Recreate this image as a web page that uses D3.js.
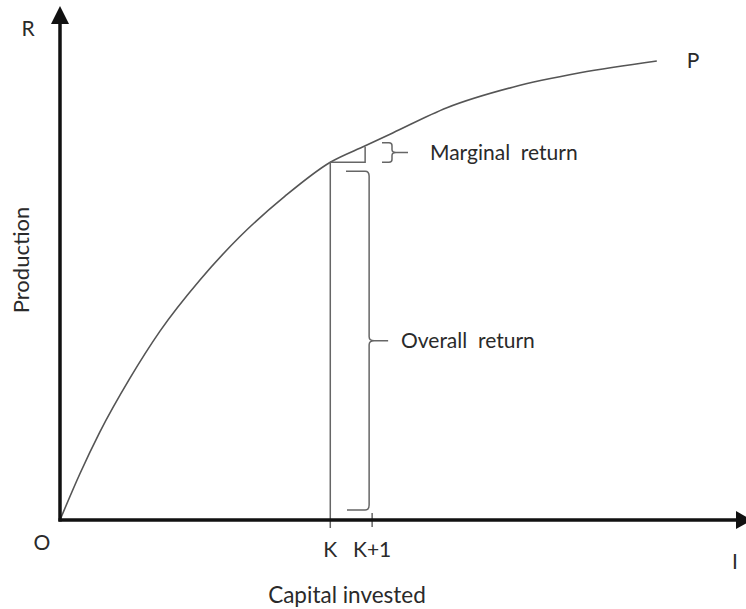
<!DOCTYPE html>
<html>
<head>
<meta charset="utf-8">
<script src="https://cdn.jsdelivr.net/npm/d3@7"></script>
<style>
  body { margin: 0; background: #fff; }
  text { font-family: Lato, "Open Sans", sans-serif; fill: #2a2a2a; font-size: 21px; }
  .guide { fill: none; stroke: #666; stroke-width: 1.5px; }
</style>
</head>
<body>
<svg id="chart" width="746" height="609"></svg>
<script>
  // production curve P (capital, production)
  const capital = [0, 2.9, 5.8, 10.2, 14.6, 20.4, 26.2, 32.8, 39.4, 44.5, 48.5, 56.4, 66, 75.8, 87];
  const production = [0, 9, 17.1, 27.6, 36.8, 46.7, 55.1, 63, 69.6, 72.8, 75.3, 80.2, 84.2, 87, 89.3];

  const kMarks = ["K", "K+1"];
  const kValues = [39.4, 45.5];

  const x = d3.scaleLinear().domain([0, 100]).range([60, 746]);
  const y = d3.scaleLinear().domain([0, 100]).range([520, 6]);

  const svg = d3.select("#chart");
  const pts = d3.zip(capital, production);
  const curveAt = (v) => {
    const i = d3.bisectLeft(capital, v);
    if (capital[i] === v) return production[i];
    const t = (v - capital[i - 1]) / (capital[i] - capital[i - 1]);
    return production[i - 1] + t * (production[i] - production[i - 1]);
  };

  // the curve
  svg.append("path")
    .datum(pts)
    .attr("fill", "none")
    .attr("stroke", "#555")
    .attr("stroke-width", 1.6)
    .attr("d", d3.line().x((d) => x(d[0])).y((d) => y(d[1])).curve(d3.curveMonotoneX));

  const kx = x(kValues[0]), k1x = x(kValues[1]);
  const ky = y(curveAt(kValues[0]));
  const stepX = k1x - 7;
  const stepY = y(curveAt(x.invert(stepX))) + 1;

  // K vertical and step triangle
  svg.append("line").attr("class", "guide")
    .attr("x1", kx).attr("x2", kx).attr("y1", ky).attr("y2", y(0) + 8);
  svg.append("path").attr("class", "guide")
    .attr("d", `M${kx},${ky}H${stepX}V${stepY}`);
  // K+1 tick
  svg.append("line").attr("class", "guide")
    .attr("x1", k1x).attr("x2", k1x).attr("y1", y(0) - 7).attr("y2", y(0) + 7);

  // marginal return brace
  const mTop = stepY - 4, mBot = ky, mx = 382, ms = 392, mMid = (mTop + mBot) / 2;
  svg.append("path").attr("class", "guide")
    .attr("d", `M${mx},${mTop}H${ms - 3}Q${ms},${mTop} ${ms},${mTop + 3}V${mMid - 3}Q${ms},${mMid} ${ms + 4},${mMid}H${ms + 16}` +
      `M${ms + 4},${mMid}Q${ms},${mMid} ${ms},${mMid + 3}V${mBot - 3}Q${ms},${mBot} ${ms - 3},${mBot}H${mx}`);
  svg.append("text").attr("x", 430).attr("y", mMid + 7)
    .attr("xml:space", "preserve").text("Marginal  return");

  // overall return brace
  const oTop = ky + 9, oBot = y(0) - 10, ox = 346, os = k1x - 3, oMid = (oTop + oBot) / 2;
  svg.append("path").attr("class", "guide")
    .attr("d", `M${ox},${oTop}H${os - 4}Q${os},${oTop} ${os},${oTop + 5}V${oMid - 4}Q${os},${oMid} ${os + 5},${oMid}H${os + 19}` +
      `M${os + 5},${oMid}Q${os},${oMid} ${os},${oMid + 4}V${oBot - 5}Q${os},${oBot} ${os - 4},${oBot}H${ox + 1}`);
  svg.append("text").attr("x", 401).attr("y", oMid + 7)
    .attr("xml:space", "preserve").text("Overall  return");

  // axes with arrowheads
  svg.append("line").attr("stroke", "#111").attr("stroke-width", 3.5)
    .attr("x1", x(0)).attr("x2", x(0)).attr("y1", y(0) + 1.5).attr("y2", 20);
  svg.append("path").attr("fill", "#111")
    .attr("d", `M${x(0)},6L${x(0) + 9},24L${x(0) - 9},24Z`);
  svg.append("line").attr("stroke", "#111").attr("stroke-width", 3.5)
    .attr("x1", x(0) - 1.5).attr("x2", 740).attr("y1", y(0)).attr("y2", y(0));
  svg.append("path").attr("fill", "#111")
    .attr("d", `M752,${y(0)}L736,${y(0) - 9}L736,${y(0) + 9}Z`);

  // K labels
  svg.selectAll(".klab").data(kMarks).enter().append("text")
    .attr("class", "klab")
    .attr("x", (d, i) => x(kValues[i]))
    .attr("y", 557)
    .attr("text-anchor", "middle")
    .text((d) => d);

  svg.append("text").attr("x", 42).attr("y", 550).attr("text-anchor", "middle").text("O");
  svg.append("text").attr("x", 28).attr("y", 36).attr("text-anchor", "middle").text("R");
  svg.append("text").attr("x", 693).attr("y", 68).attr("text-anchor", "middle").text("P");
  svg.append("text").attr("x", 735).attr("y", 569).attr("text-anchor", "middle").text("I");
  svg.append("text").attr("x", 347).attr("y", 603).attr("text-anchor", "middle")
    .style("font-size", "22.5px").text("Capital invested");
  svg.append("text").attr("transform", "translate(29,260) rotate(-90)")
    .attr("text-anchor", "middle").style("font-size", "22px").text("Production");
</script>
</body>
</html>
